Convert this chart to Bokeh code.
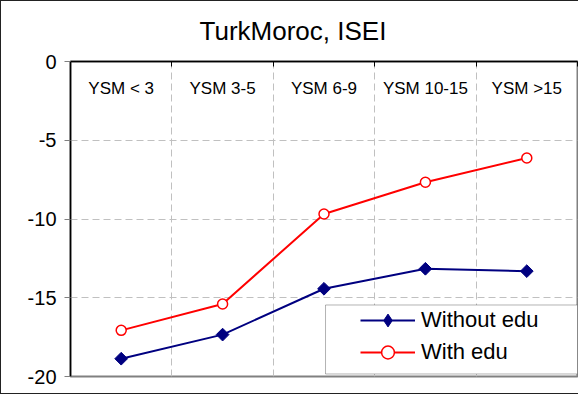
from bokeh.plotting import figure
from bokeh.models import (FactorRange, Range1d, LinearAxis, FixedTicker, Grid,
                          BoxAnnotation, Legend, LegendItem, ColumnDataSource)
from bokeh.core.properties import value
from bokeh.embed import file_html
from bokeh.resources import INLINE

categories = ["YSM < 3", "YSM 3-5", "YSM 6-9", "YSM 10-15", "YSM >15"]
without_edu = [-18.87, -17.34, -14.43, -13.16, -13.31]
with_edu = [-17.07, -15.40, -9.68, -7.67, -6.13]
y_ticks = [-20, -15, -10, -5, 0]
y_tick_labels = ["-20", "-15", "-10", "-5", "0"]
title_text = "TurkMoroc, ISEI"

FONT = "Liberation Sans"

p = figure(width=578, height=394,
           x_range=FactorRange(factors=categories, range_padding=0),
           y_range=Range1d(-20, 0),
           x_axis_location=None, y_axis_location=None,
           output_backend="svg", toolbar_location=None,
           min_border_left=69, min_border_right=2,
           min_border_top=60, min_border_bottom=19)
p.styles = {"border-left": "1px solid #222", "border-top": "1px solid #222",
            "border-bottom": "1px solid #222"}

p.background_fill_color = "white"
p.border_fill_color = "white"
p.outline_line_color = "#808080"
p.outline_line_width = 2

# title centred over the whole chart: left-aligned with an offset
p.title.text = title_text
p.title.align = "left"
p.title.offset = 129
p.title.vertical_align = "top"
p.title.text_font = FONT
p.title.text_font_size = "26px"
p.title.text_font_style = "normal"
p.title.text_color = "black"
p.title.standoff = 28

for g in p.xgrid:
    g.visible = False
for g in p.ygrid:
    g.visible = False

# top axis: ticks at category boundaries, no labels
top_axis = LinearAxis(ticker=FixedTicker(ticks=list(range(len(categories) + 1))))
top_axis.major_tick_in = 5
top_axis.major_tick_out = 0
top_axis.minor_tick_in = 0
top_axis.minor_tick_out = 0
top_axis.major_label_text_color = None
top_axis.major_label_text_font_size = "1px"
top_axis.major_label_standoff = 0
top_axis.axis_line_color = "black"
top_axis.axis_line_width = 1.5
top_axis.major_tick_line_color = "black"
p.add_layout(top_axis, "above")

left_axis = LinearAxis(ticker=FixedTicker(ticks=y_ticks))
left_axis.major_label_overrides = dict(zip(y_ticks, y_tick_labels))
left_axis.major_tick_in = 0
left_axis.major_tick_out = 6
left_axis.minor_tick_line_color = None
left_axis.major_label_standoff = 8
left_axis.major_label_text_font = FONT
left_axis.major_label_text_font_size = "20px"
left_axis.major_label_text_color = "black"
left_axis.axis_line_color = "black"
left_axis.axis_line_width = 1.5
left_axis.major_tick_line_color = "#808080"
p.add_layout(left_axis, "left")

xg = Grid(dimension=0, ticker=FixedTicker(ticks=list(range(1, len(categories)))),
          grid_line_color="#c0c0c0", grid_line_dash="7 4", grid_line_width=1)
yg = Grid(dimension=1, ticker=FixedTicker(ticks=y_ticks[1:-1]),
          grid_line_color="#c0c0c0", grid_line_dash="7 4", grid_line_width=1)
p.add_layout(xg, "center")
p.add_layout(yg, "center")

# category labels inside the plot area, under the top axis
p.text(x=categories, y=[-1.71] * len(categories), text=categories,
       text_font=value(FONT), text_font_size="17px", text_color="black",
       text_align="center", text_baseline="middle")

src = ColumnDataSource(dict(cat=categories, a=without_edu, b=with_edu))
l1 = p.line("cat", "a", source=src, line_color="#000080", line_width=2)
m1 = p.scatter("cat", "a", source=src, marker="square", size=9, angle=0.7854,
               fill_color="#000080", line_color="#000080")
l2 = p.line("cat", "b", source=src, line_color="#ff0000", line_width=2)
m2 = p.scatter("cat", "b", source=src, marker="circle", size=10,
               fill_color="white", line_color="#ff0000", line_width=1.5)

# legend-only marker (legend glyphs are never rotated); its point is NaN so
# it does not appear in the plot area
legend_src = ColumnDataSource(dict(cat=[categories[0]], v=[float("nan")]))
leg_diamond = p.scatter("cat", "v", source=legend_src, marker="diamond",
                        fill_color="#000080", line_color="#000080")

box = BoxAnnotation(left=2.515, top=-15.46, bottom=-19.84,
                    fill_color="white", fill_alpha=1,
                    line_color="black", line_width=1)
p.add_layout(box)

legend = Legend(items=[LegendItem(label="Without edu", renderers=[l1, leg_diamond]),
                       LegendItem(label="With edu", renderers=[l2, m2])],
                location=(290, 8),
                background_fill_alpha=0, border_line_color=None,
                label_text_font=FONT, label_text_font_size="22px",
                label_text_color="black",
                glyph_width=55, glyph_height=32, label_height=32,
                label_standoff=6, spacing=0, padding=3, margin=0)
p.add_layout(legend)

open("out.html", "w").write(file_html(p, INLINE))
